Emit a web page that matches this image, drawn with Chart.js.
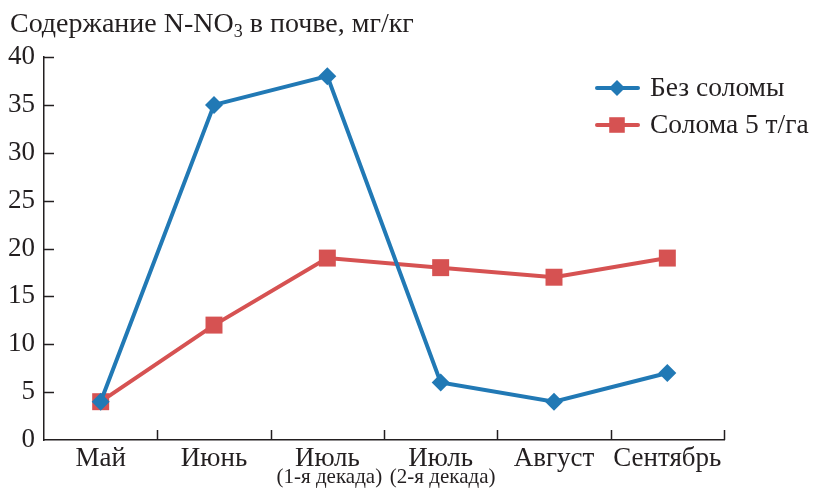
<!DOCTYPE html>
<html>
<head>
<meta charset="utf-8">
<script src="https://cdn.jsdelivr.net/npm/chart.js@4.4.1/dist/chart.umd.min.js"></script>
<style>
  html, body { margin: 0; padding: 0; background: #fff; }
</style>
</head>
<body>
<canvas id="chart" width="813" height="488"></canvas>
<script>
// data
const months = ['Май', 'Июнь', 'Июль', 'Июль', 'Август', 'Сентябрь'];
const decades = ['', '', '(1-я декада)', '(2-я декада)', '', ''];
const noStraw = [4, 35, 38, 6, 4, 7];
const straw5 = [4, 12, 19, 18, 17, 19];
const seriesNames = ['Без соломы', 'Солома 5 т/га'];

const ink = '#231f20';
const blue = '#2179b5';
const red = '#d65252';
const serif = "'Liberation Serif', 'DejaVu Serif', serif";

// tick marks pointing inside, sub-labels, title and legend
const extras = {
  id: 'extras',
  afterDraw(chart) {
    const ctx = chart.ctx;
    const x = chart.scales.x;
    const y = chart.scales.y;
    const area = chart.chartArea;
    ctx.save();
    ctx.strokeStyle = ink;
    ctx.lineWidth = 1.5;
    // x ticks between categories
    const step = (area.right - area.left) / months.length;
    for (let i = 1; i <= months.length; i++) {
      const px = Math.round(area.left + step * i) + 0.5;
      ctx.beginPath();
      ctx.moveTo(px, area.bottom);
      ctx.lineTo(px, area.bottom - 10);
      ctx.stroke();
    }
    // y ticks
    y.ticks.forEach((t) => {
      if (t.value === 0) return;
      const py = Math.round(y.getPixelForValue(t.value)) + 0.5;
      ctx.beginPath();
      ctx.moveTo(area.left, py);
      ctx.lineTo(area.left + 10, py);
      ctx.stroke();
    });

    // second line of July labels
    ctx.fillStyle = ink;
    ctx.font = '21px ' + serif;
    ctx.textAlign = 'center';
    ctx.textBaseline = 'alphabetic';
    decades.forEach((d, i) => {
      if (!d) return;
      ctx.fillText(d, x.getPixelForValue(i) + 2, 483);
    });

    // title with subscript
    ctx.textAlign = 'left';
    ctx.font = '28px ' + serif;
    let tx = 10;
    const part1 = 'Содержание N-NO';
    ctx.fillText(part1, tx, 32);
    tx += ctx.measureText(part1).width;
    ctx.font = '18px ' + serif;
    ctx.fillText('3', tx, 37);
    tx += ctx.measureText('3').width;
    ctx.font = '28px ' + serif;
    ctx.fillText(' в почве, мг/кг', tx, 32);

    // legend
    const rows = [88, 125];
    chart.data.datasets.forEach((ds, i) => {
      const ly = rows[i];
      ctx.strokeStyle = ds.borderColor;
      ctx.fillStyle = ds.backgroundColor;
      ctx.lineWidth = 4;
      ctx.lineCap = 'round';
      ctx.beginPath();
      ctx.moveTo(597, ly);
      ctx.lineTo(638, ly);
      ctx.stroke();
      Chart.helpers.drawPoint(ctx, {
        pointStyle: ds.pointStyle,
        radius: ds.pointRadius - 1,
        rotation: 0,
        borderWidth: 0
      }, 617, ly);
      ctx.fillStyle = ink;
      ctx.font = '27.5px ' + serif;
      ctx.textBaseline = 'middle';
      ctx.fillText(ds.label, 650, ly + 1);
    });
    ctx.restore();
  }
};

new Chart(document.getElementById('chart'), {
  type: 'line',
  data: {
    labels: months,
    datasets: [
      {
        label: seriesNames[0],
        data: noStraw,
        borderColor: blue,
        backgroundColor: blue,
        borderWidth: 4,
        pointStyle: 'rectRot',
        pointRadius: 9,
        pointBorderWidth: 0,
        tension: 0
      },
      {
        label: seriesNames[1],
        data: straw5,
        borderColor: red,
        backgroundColor: red,
        borderWidth: 4,
        pointStyle: 'rect',
        pointRadius: 12,
        pointBorderWidth: 0,
        tension: 0
      }
    ]
  },
  options: {
    responsive: false,
    animation: false,
    layout: { padding: { top: 57, right: 89, left: 0, bottom: 0 } },
    plugins: {
      legend: { display: false },
      tooltip: { enabled: false }
    },
    scales: {
      x: {
        offset: true,
        grid: { display: false, drawTicks: false },
        border: { display: true, color: ink, width: 1.5 },
        ticks: {
          color: ink,
          font: { family: serif, size: 27 },
          padding: 3,
          maxRotation: 0,
          autoSkip: false
        },
        afterFit(scale) { scale.height = 48; }
      },
      y: {
        min: 0,
        max: 40,
        grid: { display: false, drawTicks: false },
        border: { display: true, color: ink, width: 1.5 },
        ticks: {
          stepSize: 5,
          color: ink,
          font: { family: serif, size: 27 },
          padding: 9
        },
        afterFit(scale) { scale.width = 44; }
      }
    }
  },
  plugins: [extras]
});
</script>
</body>
</html>
